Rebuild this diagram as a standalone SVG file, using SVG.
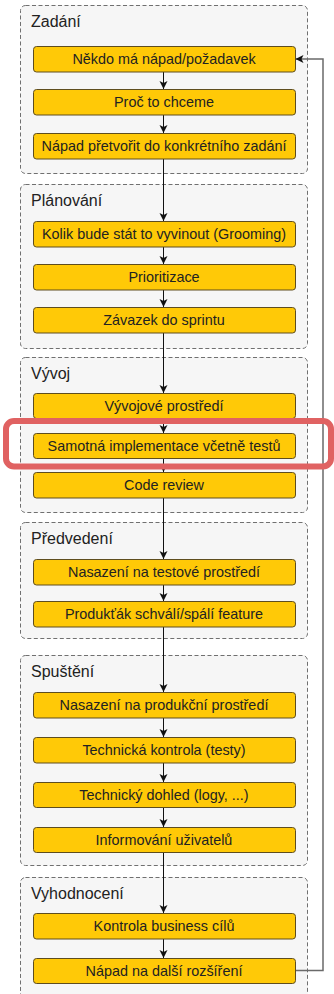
<svg xmlns="http://www.w3.org/2000/svg" width="334" height="994" viewBox="0 0 334 994">
<defs>
<style>
.grp{fill:#f6f6f6;stroke:#707070;stroke-width:1;stroke-dasharray:4 2.5}
.hdr{fill:#e9e9e9}
.glbl{font-family:"Liberation Sans",Arial,sans-serif;font-size:16px;fill:#222}
.node rect{fill:#ffc907;stroke:#5e4d1e;stroke-width:1}
.node text{font-family:"Liberation Sans",Arial,sans-serif;font-size:14.4px;fill:#222;text-anchor:middle}
.con{stroke:#111;stroke-width:1;fill:none;marker-end:url(#ah)}
.ret{stroke:#6a6a6a;stroke-width:1.5;fill:none;marker-end:url(#ah)}
</style>
<marker id="ah" markerUnits="userSpaceOnUse" markerWidth="9" markerHeight="9" refX="8" refY="4" orient="auto">
<path d="M0,0 L8,4 L0,8 L2,4 z" fill="#111"/>
</marker>
<clipPath id="c1"><rect x="20" y="5" width="287" height="168" rx="5"/></clipPath>
</defs>
<rect width="334" height="994" fill="#ffffff"/>

<g id="g-zadani">
<rect x="20.5" y="5.5" width="287" height="168" rx="5" fill="#f6f6f6"/>
<path d="M20.5,30 V10.5 a5,5 0 0 1 5,-5 H302.5 a5,5 0 0 1 5,5 V30 z" class="hdr"/>
<rect x="20.5" y="5.5" width="287" height="168" rx="5" class="grp" fill="none"/>
<text x="31" y="27" class="glbl">Zadání</text>
</g>
<g id="g-planovani">
<rect x="20.5" y="184.5" width="287" height="164" rx="5" fill="#f6f6f6"/>
<path d="M20.5,207.5 V189.5 a5,5 0 0 1 5,-5 H302.5 a5,5 0 0 1 5,5 V207.5 z" class="hdr"/>
<rect x="20.5" y="184.5" width="287" height="164" rx="5" class="grp" fill="none"/>
<text x="31" y="206" class="glbl">Plánování</text>
</g>
<g id="g-vyvoj">
<rect x="20.5" y="357.5" width="287" height="155" rx="5" fill="#f6f6f6"/>
<path d="M20.5,380.5 V362.5 a5,5 0 0 1 5,-5 H302.5 a5,5 0 0 1 5,5 V380.5 z" class="hdr"/>
<rect x="20.5" y="357.5" width="287" height="155" rx="5" class="grp" fill="none"/>
<text x="31" y="379" class="glbl">Vývoj</text>
</g>
<g id="g-predvedeni">
<rect x="20.5" y="522.5" width="287" height="116" rx="5" fill="#f6f6f6"/>
<path d="M20.5,545.5 V527.5 a5,5 0 0 1 5,-5 H302.5 a5,5 0 0 1 5,5 V545.5 z" class="hdr"/>
<rect x="20.5" y="522.5" width="287" height="116" rx="5" class="grp" fill="none"/>
<text x="31" y="544" class="glbl">Předvedení</text>
</g>
<g id="g-spusteni">
<rect x="20.5" y="655.5" width="287" height="210" rx="5" fill="#f6f6f6"/>
<path d="M20.5,678.5 V660.5 a5,5 0 0 1 5,-5 H302.5 a5,5 0 0 1 5,5 V678.5 z" class="hdr"/>
<rect x="20.5" y="655.5" width="287" height="210" rx="5" class="grp" fill="none"/>
<text x="31" y="677" class="glbl">Spuštění</text>
</g>
<g id="g-vyhodnoceni">
<rect x="20.5" y="877.5" width="287" height="130" rx="5" fill="#f6f6f6"/>
<path d="M20.5,900.5 V882.5 a5,5 0 0 1 5,-5 H302.5 a5,5 0 0 1 5,5 V900.5 z" class="hdr"/>
<rect x="20.5" y="877.5" width="287" height="130" rx="5" class="grp" fill="none"/>
<text x="31" y="899" class="glbl">Vyhodnocení</text>
</g>

<g id="connectors">
<line class="con" x1="163.5" y1="72" x2="163.5" y2="89"/>
<line class="con" x1="163.5" y1="115" x2="163.5" y2="133"/>
<line class="con" x1="163.5" y1="159" x2="163.5" y2="221"/>
<line class="con" x1="163.5" y1="247" x2="163.5" y2="264"/>
<line class="con" x1="163.5" y1="290" x2="163.5" y2="307"/>
<line class="con" x1="163.5" y1="333" x2="163.5" y2="393"/>
<line class="con" x1="163.5" y1="418" x2="163.5" y2="433"/>
<line class="con" x1="163.5" y1="458" x2="163.5" y2="472"/>
<line class="con" x1="163.5" y1="498" x2="163.5" y2="559"/>
<line class="con" x1="163.5" y1="585" x2="163.5" y2="601"/>
<line class="con" x1="163.5" y1="627" x2="163.5" y2="692"/>
<line class="con" x1="163.5" y1="718" x2="163.5" y2="737"/>
<line class="con" x1="163.5" y1="763" x2="163.5" y2="782"/>
<line class="con" x1="163.5" y1="807" x2="163.5" y2="827"/>
<line class="con" x1="163.5" y1="852" x2="163.5" y2="913"/>
<line class="con" x1="163.5" y1="939" x2="163.5" y2="958"/>
<path class="ret" d="M295,970.5 H323 V59 H295.5"/>
</g>

<g id="n1" class="node"><rect x="33.5" y="46.5" width="262" height="25.5" rx="3"/><text x="164" y="64">Někdo má nápad/požadavek</text></g>
<g id="n2" class="node"><rect x="33.5" y="89.5" width="262" height="25.5" rx="3"/><text x="164" y="107">Proč to chceme</text></g>
<g id="n3" class="node"><rect x="33.5" y="133.5" width="262" height="25.5" rx="3"/><text x="164" y="151">Nápad přetvořit do konkrétního zadání</text></g>
<g id="n4" class="node"><rect x="33.5" y="221.5" width="262" height="25.5" rx="3"/><text x="164" y="239">Kolik bude stát to vyvinout (Grooming)</text></g>
<g id="n5" class="node"><rect x="33.5" y="264.5" width="262" height="25.5" rx="3"/><text x="164" y="282">Prioritizace</text></g>
<g id="n6" class="node"><rect x="33.5" y="307.5" width="262" height="25.5" rx="3"/><text x="164" y="325">Závazek do sprintu</text></g>
<g id="n7" class="node"><rect x="33.5" y="393.5" width="262" height="25" rx="3"/><text x="164" y="411">Vývojové prostředí</text></g>
<g id="n8" class="node"><rect x="33.5" y="433.5" width="262" height="25" rx="3"/><text x="164" y="451">Samotná implementace včetně testů</text></g>
<g id="n9" class="node"><rect x="33.5" y="472.5" width="262" height="25.5" rx="3"/><text x="164" y="490">Code review</text></g>
<g id="n10" class="node"><rect x="33.5" y="559.5" width="262" height="25.5" rx="3"/><text x="164" y="577">Nasazení na testové prostředí</text></g>
<g id="n11" class="node"><rect x="33.5" y="601.5" width="262" height="25.5" rx="3"/><text x="164" y="619">Produkťák schválí/spálí feature</text></g>
<g id="n12" class="node"><rect x="33.5" y="692.5" width="262" height="25.5" rx="3"/><text x="164" y="710">Nasazení na produkční prostředí</text></g>
<g id="n13" class="node"><rect x="33.5" y="737.5" width="262" height="25.5" rx="3"/><text x="164" y="755">Technická kontrola (testy)</text></g>
<g id="n14" class="node"><rect x="33.5" y="782.5" width="262" height="25" rx="3"/><text x="164" y="800">Technický dohled (logy, ...)</text></g>
<g id="n15" class="node"><rect x="33.5" y="827.5" width="262" height="25" rx="3"/><text x="164" y="845">Informování uživatelů</text></g>
<g id="n16" class="node"><rect x="33.5" y="913.5" width="262" height="25.5" rx="3"/><text x="164" y="931">Kontrola business cílů</text></g>
<g id="n17" class="node"><rect x="33.5" y="958.5" width="262" height="25" rx="3"/><text x="164" y="976">Nápad na další rozšíření</text></g>

<g id="highlight">
<rect x="6" y="421" width="325" height="45.5" rx="8" fill="none" stroke="#e06262" stroke-width="6"/>
</g>
</svg>
